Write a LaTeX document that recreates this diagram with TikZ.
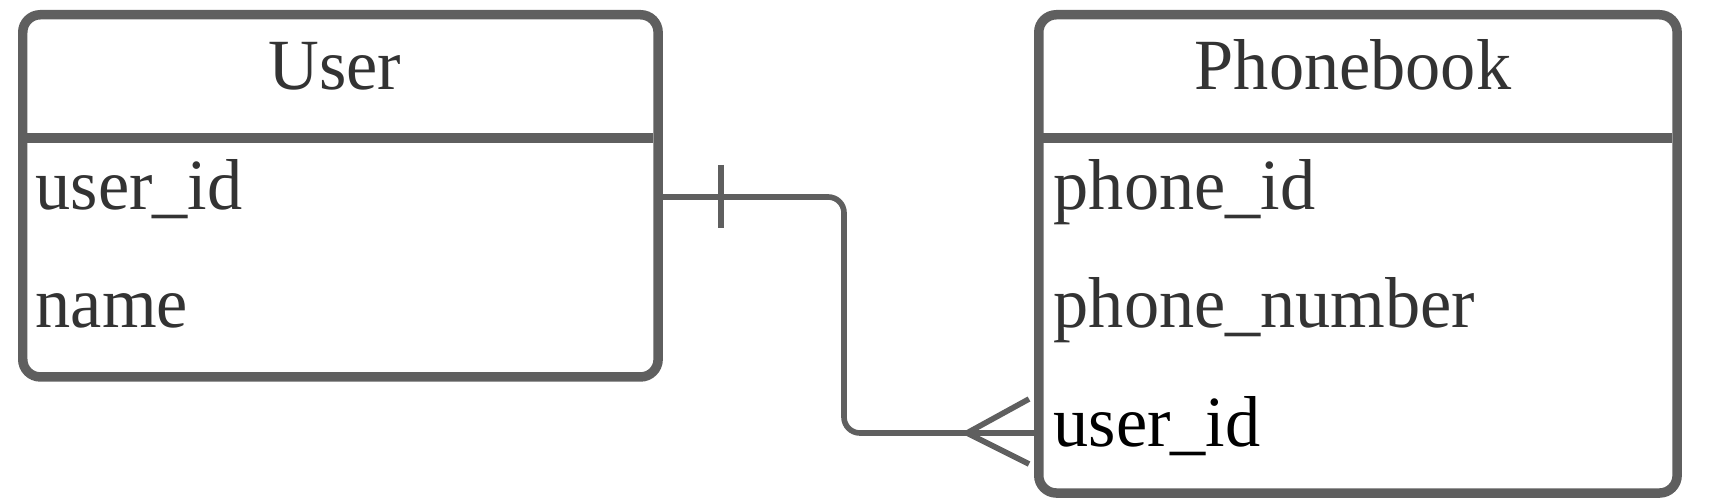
\documentclass[tikz,border=0pt]{standalone}
\usepackage{fontspec}
\setmainfont[FakeStretch=0.975]{Liberation Serif}
\definecolor{erline}{HTML}{5F5F5F}
\definecolor{ertext}{HTML}{333333}

\begin{document}
\begin{tikzpicture}[x=0.01cm, y=-0.01cm,
        entity/.style={draw=erline, line width=2.7pt, rounded corners=5pt, anchor=north west, inner sep=0pt},
        divider/.style={draw=erline, line width=2.6pt},
        field/.style={anchor=base west, text=ertext, inner sep=0pt, font=\fontsize{20.5}{24}\selectfont},
        title/.style={anchor=base, text=ertext, inner sep=0pt, font=\fontsize{20.5}{24}\selectfont},
        rel/.style={draw=erline, line width=1.6pt}]
        \useasboundingbox (0,0) rectangle (1716,504);

        % ===== USER =====
        \def\yDiv{138}

        \node[entity, minimum width=6.35cm, minimum height=3.62cm] (user) at (18,10) {};
        \draw[divider] (18,\yDiv) -- (653,\yDiv);
        \node[title] (userTitle) at (335,90) {User};
        \node[field] (uUserId) at (35,210) {user\_id};
        \node[field] (uName) at (35,328) {name};

        % ===== PHONEBOOK =====
        \node[entity, minimum width=6.38cm, minimum height=4.78cm] (phonebook) at (1034,10) {};
        \draw[divider] (1034,\yDiv) -- (1672,\yDiv);
        \node[title] (pbTitle) at (1353,90) {Phonebook};
        \node[field] (pPhoneId) at (1053,210) {phone\_id};
        \node[field] (pPhoneNumber) at (1053,328) {phone\_number};
        \node[field, text=black] (pUserId) at (1053,447) {user\_id};

        % relazione 1 : N
        \coordinate (relUser) at (user.east |- 0,197);
        \coordinate (relPb) at (phonebook.west |- 0,433);
        \draw[rel, rounded corners=4.5pt] (relUser) -- (844,197) -- (844,433) -- (relPb);
        % uno
        \draw[rel] (721,165) -- (721,228);
        % molti
        \draw[rel] (1029,399) -- (967,433) -- (1029,464);
    \end{tikzpicture}
\end{document}
